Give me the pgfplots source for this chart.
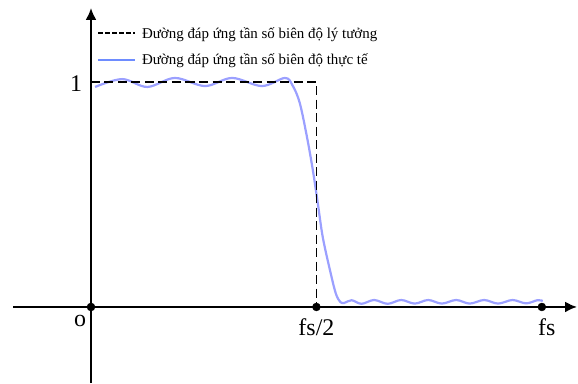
\documentclass[border=0pt]{standalone}
\usepackage{fontspec}
\setmainfont{Liberation Serif}
\usepackage{pgfplots}
\pgfplotsset{compat=1.18}
\usetikzlibrary{arrows.meta}
\definecolor{realblue}{RGB}{155,160,255}
\definecolor{legblue}{RGB}{110,140,255}
\begin{document}
\begin{tikzpicture}[x=1bp,y=1bp]
\useasboundingbox (-13,0) rectangle (565,383);
\begin{axis}[
  at={(0,0)}, anchor=south west,
  scale only axis, width=564bp, height=375bp,
  xmin=-0.173, xmax=1.078, ymin=-0.338, ymax=1.329,
  axis lines=middle,
  axis line style={line width=2bp, -{Latex[length=12bp,width=11bp]}},
  xtick=\empty, ytick=\empty,
  clip=false,
  legend style={at={(axis cs:0.013,1.249)}, anchor=north west, draw=none, fill=none,
    inner sep=0pt, row sep=12bp, column sep=0bp,
    font=\fontsize{15}{15}\selectfont, cells={anchor=west},
    nodes={inner sep=1bp}},
  legend image code/.code={\draw[#1] (0bp,0bp) -- (37bp,0bp);},
]
\addlegendimage{black, line width=2bp, dash pattern=on 4.5bp off 2.5bp}
\addlegendentry{\hspace{5bp}Đường đáp ứng tần số biên độ lý tưởng}
\addlegendimage{legblue, line width=2bp}
\addlegendentry{\hspace{5bp}Đường đáp ứng tần số biên độ thực tế}

\addplot[realblue, line width=2.2bp, smooth, tension=0.55, forget plot] coordinates {
(0.009,0.978) (0.069,1.013) (0.125,0.978) (0.186,1.018) (0.253,0.982)
(0.313,1.018) (0.379,0.982) (0.430,1.018) (0.447,0.985) (0.463,0.907)
(0.479,0.756) (0.492,0.609) (0.503,0.462) (0.514,0.311) (0.530,0.164)
(0.543,0.060) (0.553,0.022) (0.562,0.018) (0.578,0.030) (0.600,0.014)
(0.628,0.031) (0.658,0.014) (0.688,0.031) (0.718,0.015) (0.748,0.031)
(0.778,0.015) (0.810,0.031) (0.840,0.015) (0.872,0.031) (0.903,0.015)
(0.935,0.031) (0.965,0.016) (0.990,0.030) (1.002,0.027)
};
\addplot[black, line width=1.6bp, dash pattern=on 9bp off 4.5bp, forget plot] coordinates {
(0,1) (0.5,1) (0.5,0)
};
\addplot[black, only marks, mark=*, mark size=4bp, forget plot] coordinates {
(0,0) (0.5,0) (1,0)
};
\node[font=\fontsize{24}{24}\selectfont, anchor=base, inner sep=0pt] at (axis cs:-0.033,0.957) {1};
\node[font=\fontsize{24}{24}\selectfont, anchor=base, inner sep=0pt] at (axis cs:-0.0244,-0.0876) {o};
\node[font=\fontsize{24}{24}\selectfont, anchor=base, inner sep=0pt] at (axis cs:0.5,-0.129) {fs/2};
\node[font=\fontsize{24}{24}\selectfont, anchor=base, inner sep=0pt] at (axis cs:1.011,-0.129) {fs};
\end{axis}
\end{tikzpicture}
\end{document}
